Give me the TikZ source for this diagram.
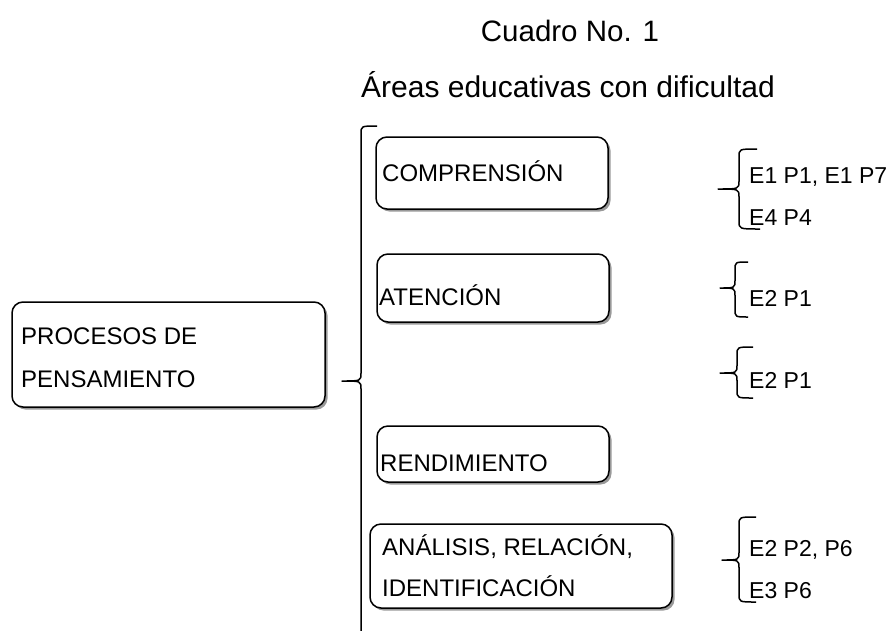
\documentclass[tikz,border=0pt]{standalone}
\usepackage{fontspec}
\setmainfont{Liberation Sans}
\usetikzlibrary{shadows}
\newcommand\brc[7]{% top-hook x, top y, vertical x, tip x, mid y, bottom y, bottom-hook x
  \draw[bracestyle] (#1,#2) .. controls (#3,#2) .. (#3,#2+8) -- (#3,#5-8)
    .. controls (#3,#5) .. (#4,#5) .. controls (#3,#5) .. (#3,#5+8)
    -- (#3,#6-8) .. controls (#3,#6) .. (#7,#6);}
\tikzset{
  box/.style={draw, line width=1.5pt, rounded corners=11pt, fill=white, inner sep=0pt,
    drop shadow={shadow xshift=2.5pt, shadow yshift=-2.5pt, fill=black!40, opacity=1}},
  txt/.style={anchor=base west, inner sep=0pt, font=\fontsize{24}{28}\selectfont},
  rtxt/.style={anchor=base west, inner sep=0pt, font=\fontsize{23}{27}\selectfont},
  ttl/.style={anchor=base, inner sep=0pt, font=\fontsize{29.5}{34}\selectfont},
  ttlb/.style={anchor=base, inner sep=0pt, font=\fontsize{30}{34}\selectfont},
  bracestyle/.style={line width=1.5pt, line join=round}
}
\begin{document}
\begin{tikzpicture}[x=1pt,y=-1pt]
\useasboundingbox (0,0) rectangle (894,630);
% titles
\node[ttl] (t1) at (570,41) {Cuadro No. 1};
\node[ttlb] (t2) at (568,97) {Áreas educativas con dificultad};
% boxes
\node[box, minimum width=313pt, minimum height=105pt] (proc) at (168.5,354.5) {};
\node[box, minimum width=232pt, minimum height=72pt] (comp) at (492,173) {};
\node[box, minimum width=232pt, minimum height=68pt] (aten) at (493,288) {};
\node[box, minimum width=232pt, minimum height=56pt] (rend) at (493,454) {};
\node[box, minimum width=302pt, minimum height=84pt] (anal) at (521,566) {};
% box texts
\node[txt] (p1) at (21,344) {PROCESOS DE};
\node[txt] (p2) at (21,387) {PENSAMIENTO};
\node[txt] (c1) at (382,181) {COMPRENSIÓN};
\node[txt] (a1) at (379,305) {ATENCIÓN};
\node[txt] (r1) at (380,471) {RENDIMIENTO};
\node[txt] (n1) at (382,555) {ANÁLISIS, RELACIÓN,};
\node[txt] (n2) at (382,596) {IDENTIFICACIÓN};
% right texts
\node[rtxt] (e1) at (749,183) {E1 P1, E1 P7};
\node[rtxt] (e2) at (749,225) {E4 P4};
\node[rtxt] (e3) at (749,306) {E2 P1};
\node[rtxt] (e4) at (749,388) {E2 P1};
\node[rtxt] (e5) at (749,556) {E2 P2, P6};
\node[rtxt] (e6) at (749,598) {E3 P6};
% braces
\brc{377}{126}{361}{342}{381}{650}{377}
\brc{757}{149}{739}{718}{189}{229}{760}
\brc{748}{262}{735}{720}{288}{317}{748}
\brc{753}{347}{737}{720}{373}{398}{753}
\brc{756}{517}{739}{722}{560}{602}{756}
\end{tikzpicture}
\end{document}
